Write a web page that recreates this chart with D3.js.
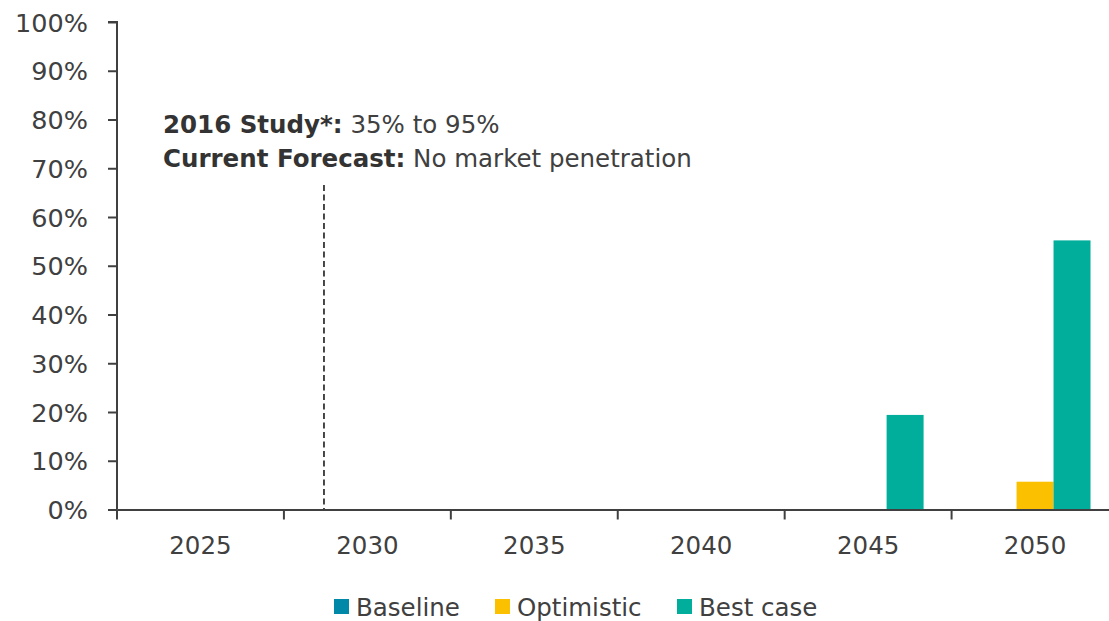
<!DOCTYPE html>
<html>
<head>
<meta charset="utf-8">
<script src="https://cdn.jsdelivr.net/npm/d3@7"></script>
<style>
  html, body { margin: 0; padding: 0; background: #fff; }
  svg text { font-family: "DejaVu Sans", Verdana, sans-serif; fill: #404040; }
</style>
</head>
<body>
<svg id="chart" width="1109" height="621"></svg>
<script>
// Market penetration by year and scenario (share, 0–1)
const years = ["2025", "2030", "2035", "2040", "2045", "2050"];
const seriesNames = ["Baseline", "Optimistic", "Best case"];
const baseline   = [0, 0, 0, 0, 0, 0];
const optimistic = [0, 0, 0, 0, 0, 0.057];
const bestCase   = [0, 0, 0, 0, 0.194, 0.552];
const colors = ["#0088a8", "#fbc000", "#00ae9b"];
const yTicks = [0, 0.1, 0.2, 0.3, 0.4, 0.5, 0.6, 0.7, 0.8, 0.9, 1.0];
// Reference line position, as a fraction into the 2030 band
const markerYear = "2030";
const markerOffset = 0.24;
const noteLines = [
  { bold: "2016 Study*:", regular: " 35% to 95%" },
  { bold: "Current Forecast:", regular: " No market penetration" }
];

const svg = d3.select("#chart");
const margin = { left: 117, right: 1118.5, top: 22, bottom: 509.5 };

const x0 = d3.scaleBand().domain(years).range([margin.left, margin.right]).paddingInner(0).paddingOuter(0);
const x1 = d3.scaleBand().domain(seriesNames).range([0, x0.bandwidth()]).paddingInner(0).paddingOuter(0.757);
const y = d3.scaleLinear().domain([0, 1]).range([margin.bottom, margin.top]);

const values = [baseline, optimistic, bestCase];
const table = years.map((yr, i) => ({ year: yr, vals: seriesNames.map((s, j) => ({ key: s, v: values[j][i], c: colors[j] })) }));

// Bars
const groups = svg.append("g").selectAll("g").data(table).join("g")
  .attr("transform", d => `translate(${x0(d.year)},0)`);
groups.selectAll("rect").data(d => d.vals.filter(e => e.v > 0)).join("rect")
  .attr("x", d => x1(d.key))
  .attr("width", x1.bandwidth())
  .attr("y", d => y(d.v))
  .attr("height", d => y(0) - y(d.v))
  .attr("fill", d => d.c);

// Y axis
const yAxis = svg.append("g").attr("transform", `translate(${margin.left},0)`)
  .call(d3.axisLeft(y).tickValues(yTicks).tickFormat(d3.format(".0%")).tickSize(9).tickPadding(20));
yAxis.select(".domain").attr("stroke", "#404040").attr("stroke-width", 2).attr("d", `M-9,${y(1)}H0V${y(0)}`);
yAxis.selectAll(".tick line").attr("stroke", "#404040").attr("stroke-width", 2);
yAxis.selectAll(".tick text").attr("font-size", 25.5).attr("fill", "#404040").attr("dy", "0.36em");

// X axis
const xAxis = svg.append("g").attr("transform", `translate(0,${margin.bottom})`)
  .call(d3.axisBottom(x0).tickSize(0).tickPadding(27));
xAxis.select(".domain").attr("stroke", "#404040").attr("stroke-width", 2);
xAxis.selectAll(".tick text").attr("font-size", 24.5).attr("fill", "#404040");
// boundary ticks between categories
const bounds = years.map(yr => x0(yr)).concat([margin.right]);
svg.append("g").selectAll("line").data(bounds).join("line")
  .attr("x1", d => d).attr("x2", d => d)
  .attr("y1", margin.bottom).attr("y2", margin.bottom + 10)
  .attr("stroke", "#404040").attr("stroke-width", 2);

// Dashed reference line
const mx = x0(markerYear) + markerOffset * x0.bandwidth();
svg.append("line")
  .attr("x1", mx).attr("x2", mx)
  .attr("y1", 185).attr("y2", margin.bottom)
  .attr("stroke", "#404040").attr("stroke-width", 1.9)
  .attr("stroke-dasharray", "6,3.5");

// Note text
const note = svg.append("g");
noteLines.forEach((ln, i) => {
  const t = note.append("text").attr("x", 163).attr("y", 133 + i * 34).attr("font-size", 24.5);
  t.append("tspan").attr("font-weight", "bold").attr("fill", "#333").text(ln.bold);
  t.append("tspan").attr("fill", "#404040").text(ln.regular);
});

// Legend
const legendX = [334, 495, 677];
const lg = svg.append("g").selectAll("g").data(seriesNames).join("g")
  .attr("transform", (d, i) => `translate(${legendX[i]},599)`);
lg.append("rect").attr("width", 15).attr("height", 15).attr("fill", (d, i) => colors[i]);
lg.append("text").attr("x", 22).attr("y", 16.5).attr("font-size", 24.5).text(d => d);
</script>
</body>
</html>
